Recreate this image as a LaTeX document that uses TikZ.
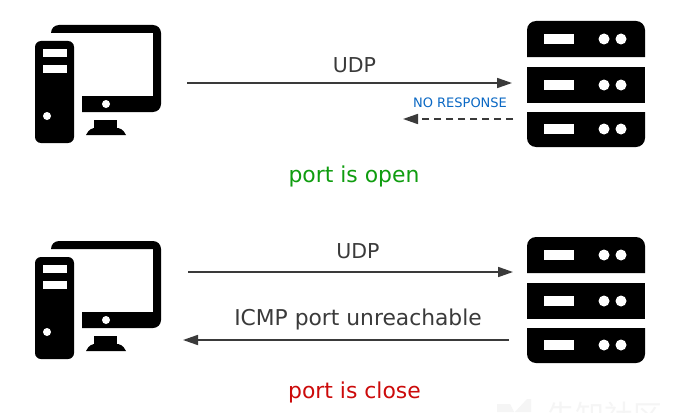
\documentclass[tikz,border=0pt]{standalone}
\usepackage{fontspec}
\setmainfont{DejaVu Sans}
\newfontfamily\cjkfont{Noto Sans CJK SC}
\usetikzlibrary{arrows.meta}
\usetikzlibrary{positioning}
\definecolor{darktxt}{HTML}{3A3A3A}
\definecolor{openclr}{HTML}{0F9D0F}
\definecolor{closeclr}{HTML}{CC0A0A}
\definecolor{noteclr}{HTML}{0A68C4}
\definecolor{markclr}{HTML}{F5F5F5}
\tikzstyle{hole}=[fill=white]
\tikzstyle{flow} = [draw=darktxt,line width=1.7pt,-{Triangle[length=15pt,width=10pt]}]
\tikzstyle{silent} = [flow,dashed,dash pattern=on 7pt off 5pt]
\tikzstyle{proto} = [text=darktxt,font=\fontsize{20.5}{21}\selectfont,inner sep=0pt]
\tikzstyle{state} = [font=\fontsize{21.9}{22}\selectfont,inner sep=0pt]

\begin{document}
\begin{tikzpicture}[x=1pt,y=-1pt]
  \useasboundingbox (0,0) rectangle (684,412);
  \fill[white] (0,0) rectangle (684,412);

  % both rows share the same icons
  \foreach \dy in {0,216} {
    % monitor
    \fill (82,96+\dy) -- (153,96+\dy) -- (153,33+\dy) -- (51,33+\dy) [rounded corners=8pt] -- (51,25+\dy) -- (161,25+\dy) -- (161,112+\dy) [sharp corners] -- (82,112+\dy) -- cycle;
    \fill[hole] (106,104+\dy) circle (4);
    \fill (94,120+\dy) rectangle (117,128+\dy);
    \fill (86,135+\dy) .. controls (89,129+\dy) and (92,128+\dy) .. (96,128+\dy) -- (116,128+\dy) .. controls (120,128+\dy) and (123,129+\dy) .. (126,135+\dy) -- cycle;
    % tower
    \fill[rounded corners=6pt] (35,41+\dy) rectangle (74,143+\dy);
    \foreach \t in {49,65}
      \fill[hole] (43,\t+\dy) rectangle (67,\t+8+\dy);
    \fill[hole] (47,116+\dy) circle (4);
    % server
    \fill (527,57+\dy) [rounded corners=9pt] -- (527,21+\dy) -- (645,21+\dy) [sharp corners] -- (645,57+\dy) -- cycle;
    \fill (527,67+\dy) rectangle (645,103+\dy);
    \fill (527,112+\dy) [rounded corners=9pt] -- (527,147+\dy) -- (645,147+\dy) [sharp corners] -- (645,112+\dy) -- cycle;
    \foreach \c in {39,85,129} {
      \fill[hole] (544,\c-5+\dy) rectangle (574,\c+5+\dy);
      \fill[hole] (604,\c+\dy) circle (5.5);
      \fill[hole] (621,\c+\dy) circle (5.5);
    }
  }

  \coordinate (openout) at (187,83);
  \coordinate (openin) at (512,83);
  \coordinate (quietfrom) at (513,119);
  \coordinate (quietto) at (403,119);
  \coordinate (closeout) at (188,272);
  \coordinate (closein) at (513,272);
  \coordinate (icmpfrom) at (509,340);
  \coordinate (icmpto) at (183,340);

  \draw[flow] (openout) -- (openin);
  \draw[silent] (quietfrom) -- (quietto);
  \draw[flow] (closeout) -- (closein);
  \draw[flow] (icmpfrom) -- (icmpto);

  \node[proto] (udpopen) at (354.5,65.5) {UDP};
  \node[inner sep=0pt,text=noteclr,font=\fontsize{13}{13}\selectfont] (noresp) at (460,103) {NO RESPONSE};
  \node[state,text=openclr] (portopen) at (354,176) {port is open};
  \node[proto] (udpclose) at (358,251.5) {UDP};
  \node[proto,font=\fontsize{21.8}{22}\selectfont] (icmp) at (358,319) {ICMP port unreachable};
  \node[state,text=closeclr] (portclose) at (354.5,392) {port is close};

  % faint mark, cut off by the lower edge
  \begin{scope}
    \clip (0,0) rectangle (684,412);
    \fill[markclr] (497,404) -- (510,404) -- (514,412) -- (497,412) -- cycle;
    \fill[markclr] (515,412) -- (527,399) -- (531,399) -- (531,412) -- cycle;
    \node[inner sep=0pt,text=markclr,font=\cjkfont\fontsize{29}{29}\selectfont] (mark) at (604,416) {先知社区};
  \end{scope}
\end{tikzpicture}
\end{document}
